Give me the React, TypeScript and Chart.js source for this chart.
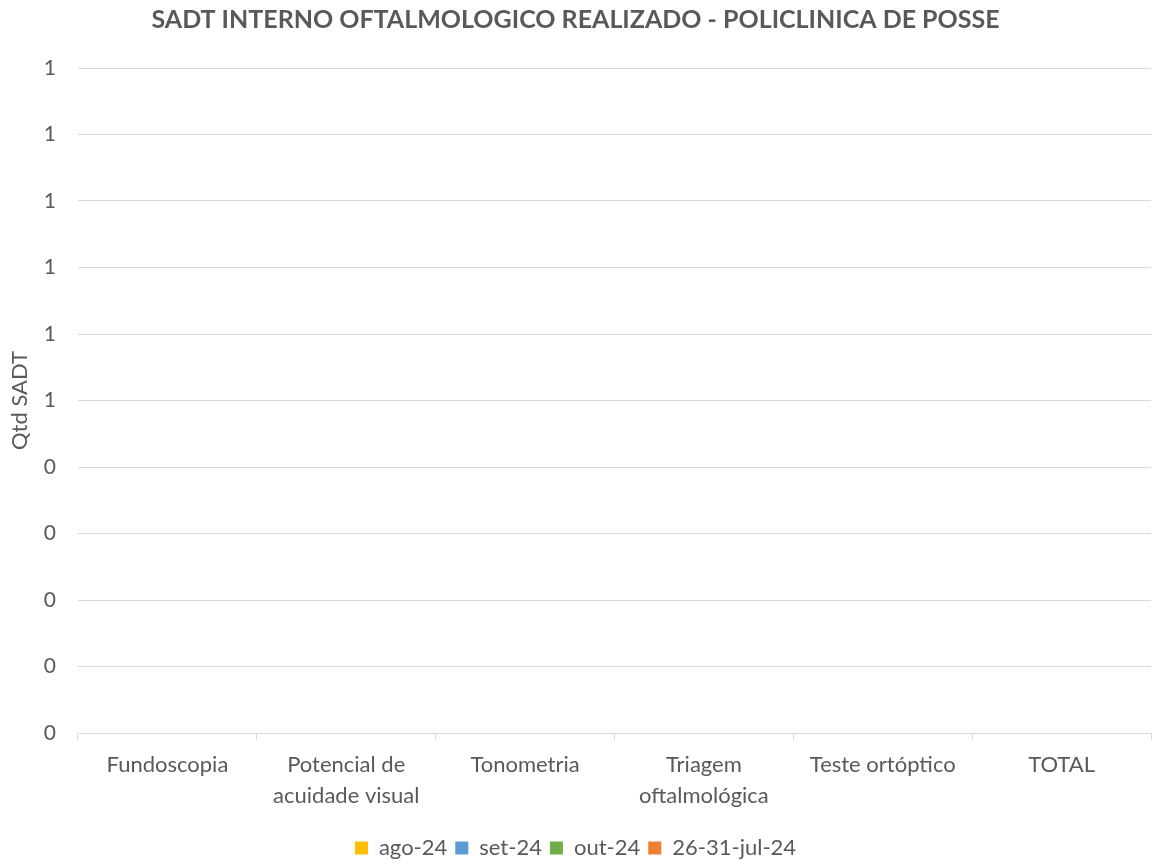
import React, { useEffect, useRef } from "react";
import { Chart, registerables } from "chart.js";

Chart.register(...registerables);

const categories: (string | string[])[] = [
  "Fundoscopia",
  ["Potencial de", "acuidade visual"],
  "Tonometria",
  ["Triagem", "oftalmológica"],
  "Teste ortóptico",
  "TOTAL",
];

const seriesNames = ["ago-24", "set-24", "out-24", "26-31-jul-24"];
const seriesColors = ["#FFC000", "#5B9BD5", "#70AD47", "#ED7D31"];

const ago24 = [0, 0, 0, 0, 0, 0];
const set24 = [0, 0, 0, 0, 0, 0];
const out24 = [0, 0, 0, 0, 0, 0];
const jul24 = [0, 0, 0, 0, 0, 0];

const yMin = 0;
const yMax = 1;
const yStep = 0.1;

const FONT = "Lato, 'Open Sans', sans-serif";
const TEXT = "#595959";
const GRID = "#d9d9d9";

export default function App() {
  const ref = useRef<HTMLCanvasElement | null>(null);

  useEffect(() => {
    if (!ref.current) return;
    const values = [ago24, set24, out24, jul24];
    const chart = new Chart(ref.current, {
      type: "bar",
      data: {
        labels: categories,
        datasets: seriesNames.map((name, i) => ({
          label: name,
          data: values[i],
          backgroundColor: seriesColors[i],
          borderWidth: 0,
        })),
      },
      options: {
        responsive: false,
        animation: false,
        maintainAspectRatio: false,
        layout: { padding: { left: 0, right: 4, top: 0, bottom: -5 } },
        plugins: {
          title: {
            display: true,
            text: "SADT INTERNO OFTALMOLOGICO REALIZADO - POLICLINICA DE POSSE",
            color: TEXT,
            font: { family: FONT, size: 25, weight: "bold", lineHeight: 1.2 },
            padding: { top: 5, bottom: 33 },
          },
          legend: {
            position: "bottom",
            labels: {
              color: TEXT,
              font: { family: FONT, size: 22 },
              boxWidth: 13,
              boxHeight: 13,
              padding: 8,
            },
          },
          tooltip: { enabled: false },
        },
        scales: {
          x: {
            grid: {
              display: true,
              drawOnChartArea: false,
              drawTicks: true,
              tickLength: 7,
              color: GRID,
              offset: true,
            },
            border: { display: true, color: GRID, width: 1 },
            ticks: {
              color: TEXT,
              font: { family: FONT, size: 22, lineHeight: 1.41 },
              padding: 9,
              maxRotation: 0,
              autoSkip: false,
            },
            afterFit: (s: any) => {
              s.height = 96;
            },
          },
          y: {
            min: yMin,
            max: yMax,
            grid: { color: GRID, drawTicks: false, lineWidth: 1 },
            border: { display: false },
            ticks: {
              stepSize: yStep,
              color: TEXT,
              padding: 22,
              font: { family: FONT, size: 21 },
              callback: (v: any) => String(Math.round(Math.round(Number(v) * 10) / 10)),
            },
            title: {
              display: true,
              text: "Qtd SADT",
              color: TEXT,
              font: { family: FONT, size: 22, lineHeight: 1.2 },
              padding: { top: 7, bottom: 0 },
            },
            afterFit: (s: any) => {
              s.width = 78;
            },
          },
        },
      },
    });
    return () => chart.destroy();
  }, []);

  return (
    <div style={{ position: "fixed", left: 0, top: 0, width: 1155, height: 864, background: "#fff" }}>
      <canvas ref={ref} width={1155} height={864} style={{ width: 1155, height: 864, display: "block" }} />
    </div>
  );
}
